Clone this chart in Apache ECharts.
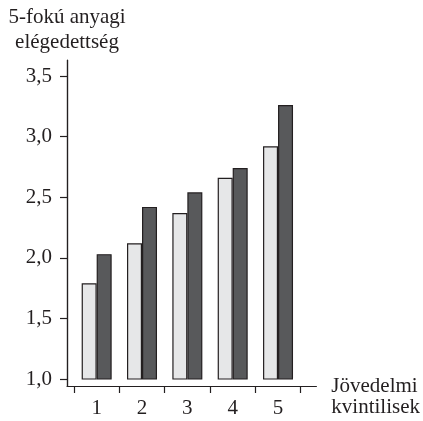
<!DOCTYPE html>
<html><head><meta charset="utf-8">
<script src="https://cdn.jsdelivr.net/npm/echarts@6/dist/echarts.min.js"></script>
<style>html,body{margin:0;padding:0;background:#fff}#c{width:423px;height:421px}</style>
</head><body><div id="c"></div>
<script>
const categories = ['1', '2', '3', '4', '5'];
const seriesLight = [1.79, 2.12, 2.37, 2.66, 2.92];
const seriesDark = [2.03, 2.42, 2.54, 2.74, 3.26];
const yTitle = '5-fokú anyagi\nelégedettség';
const xTitle = 'Jövedelmi\nkvintilisek';

const font = 'Liberation Serif';
const ink = '#231f20';
const clear = 'rgba(0,0,0,0)';
const chart = echarts.init(document.getElementById('c'));
chart.setOption({
  animation: false,
  grid: [
    {left: 67, top: 60, width: 250, height: 326},
    {left: 74, top: 76, width: 226.7, height: 303}
  ],
  xAxis: [
    {type: 'value', gridIndex: 0, min: 0, max: 1, interval: 1,
     axisLine: {show: true, onZero: false, lineStyle: {color: ink, width: 1.2}},
     axisTick: {show: false}, axisLabel: {show: false},
     splitLine: {show: true, lineStyle: {color: [ink, clear], width: 1.2}},
     name: '\n' + xTitle, nameLocation: 'end', nameGap: 15,
     nameTextStyle: {color: ink, fontFamily: font, fontSize: 21, lineHeight: 21, align: 'left', verticalAlign: 'middle'}},
    {type: 'category', gridIndex: 1, data: categories, offset: 7,
     axisLine: {show: true, lineStyle: {color: clear}},
     axisTick: {show: true, length: 7, lineStyle: {color: ink, width: 1.2}},
     axisLabel: {color: ink, fontFamily: font, fontSize: 21, margin: 12},
     splitLine: {show: false}}
  ],
  yAxis: [
    {type: 'value', gridIndex: 0, min: 0, max: 1, interval: 1,
     axisLine: {show: true, onZero: false, lineStyle: {color: ink, width: 1.2}},
     axisTick: {show: false}, axisLabel: {show: false},
     splitLine: {show: true, lineStyle: {color: [ink, clear], width: 1.2}},
     name: yTitle, nameLocation: 'end', nameGap: 5,
     nameTextStyle: {color: ink, fontFamily: font, fontSize: 21, lineHeight: 25, align: 'center', verticalAlign: 'bottom'}},
    {type: 'value', gridIndex: 1, min: 1, max: 3.5, interval: 0.5, offset: 7,
     axisLine: {show: true, lineStyle: {color: clear}},
     axisTick: {show: true, length: 7, lineStyle: {color: ink, width: 1.2}},
     axisLabel: {color: ink, fontFamily: font, fontSize: 21, margin: 15,
       formatter: v => v.toFixed(1).replace('.', ',')},
     splitLine: {show: false}}
  ],
  series: [
    {type: 'line', xAxisIndex: 0, yAxisIndex: 0, data: []},
    {type: 'bar', xAxisIndex: 1, yAxisIndex: 1, data: seriesLight, barWidth: 15, barGap: '0%',
     itemStyle: {color: '#e6e7e8', borderColor: ink, borderWidth: 1.2}},
    {type: 'bar', xAxisIndex: 1, yAxisIndex: 1, data: seriesDark, barWidth: 15, barGap: '0%',
     itemStyle: {color: '#58595b', borderColor: ink, borderWidth: 1.2}}
  ]
});
</script></body></html>
